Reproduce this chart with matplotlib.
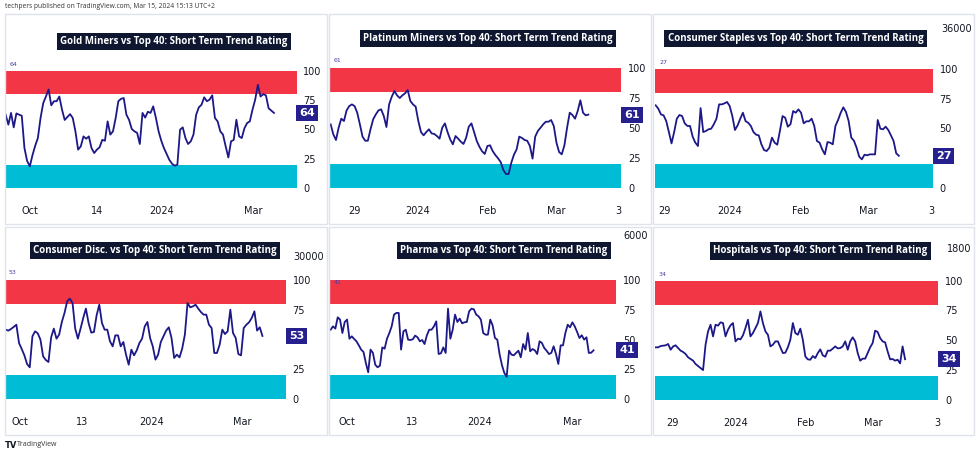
import matplotlib.pyplot as plt
import numpy as np
from matplotlib.patches import Rectangle
import matplotlib.transforms as mtransforms

W, H = 980, 454

# short term trend rating per sector
gold_miners = [62.5, 54, 64, 51.7, 63.6, 62.5, 61.6, 34, 23, 18.5, 28, 36, 42.6, 59.7, 72.4, 78, 84, 70.5, 74, 74,
               78, 66.8, 58, 60.5, 63, 59.7, 48.3, 32.7, 35.5, 44, 42, 44, 34, 29.8, 32.7, 34.7, 41, 40.3, 56.8, 45.5,
               48.3, 59.7, 74, 76, 76.7, 62.5, 58, 50.3, 48.3, 47, 37.5, 64, 60, 65, 64, 69.6, 59.7, 48.3, 40.3, 34,
               29, 24, 20.7, 19, 19.9, 49.7, 51.7, 42.6, 37.5, 39.8, 45.5, 62.5, 68.8, 71, 77.3, 74, 75.3, 79, 59.7,
               56.8, 48.3, 45.5, 35.5, 26, 39.8, 41, 58.2, 44, 42.6, 51, 55.4, 56.8, 66.8, 75.3, 88, 78, 80, 79, 68,
               66, 64]
platinum_miners = [52.9, 44.6, 39.9, 50.1, 57.6, 55.7, 64.5, 68.1, 69.5, 68.1, 62.6, 52.9, 42.7, 39.3, 39.3, 48.8,
                   57.1, 61.2, 64.5, 65.4, 59.8, 50.7, 69.5, 75.9, 80.6, 77, 74.8, 77, 78.7, 81.4, 72.3, 69.5, 67.6,
                   55.7, 46.5, 43.8, 46.5, 48.8, 45.4, 44.9, 43.2, 41, 50.1, 53.7, 46.5, 40.4, 36.3, 43.2, 41, 38.5,
                   36.6, 41.8, 51, 53.7, 46.5, 39.1, 34.3, 30.5, 28.3, 34.9, 35.5, 30.7, 27.4, 24.7, 21.6, 15, 11.6,
                   11.6, 21, 27.7, 32.1, 42.7, 41.6, 39.9, 39.3, 34.9, 24.4, 42.7, 47.4, 50.1, 52.9, 55.1, 55.1, 56.5,
                   51.5, 37.7, 29.9, 28, 35.5, 50.1, 62.6, 60.7, 57.6, 64, 72.9, 62.6, 60.4, 61]
consumer_staples = [69.3, 66.5, 61.7, 60.9, 56.1, 46.9, 37.4, 46.9, 58.1, 61.2, 60.3, 54.2, 52, 52, 43, 38, 35.2,
                    67, 46.9, 47.8, 49.2, 49.7, 53.4, 58.1, 70.1, 70.1, 70.9, 72.1, 68.7, 60.3, 48.6, 52.5, 58.1,
                    63.1, 56.1, 54.7, 52, 46.9, 44.7, 44.1, 36.6, 31.8, 31, 33.8, 42.2, 38, 36.3, 47.8, 60.3, 58.9,
                    51.4, 53.4, 64.5, 63.1, 65.9, 63.1, 54.2, 55.9, 55.9, 58.1, 52, 39.4, 38, 32.4, 28.2, 38.5, 38,
                    36.6, 52, 57, 63.1, 67.6, 63.7, 56.1, 42.2, 39.7, 33.8, 26.3, 24, 27.9, 27.4, 28.2, 28.2, 28.2,
                    57, 49.7, 49.2, 51.4, 48.6, 44.1, 39.4, 29.1, 27]
consumer_disc = [58.3, 57.5, 58.9, 60.6, 62.5, 47, 42, 36.6, 29.3, 26.5, 52.7, 56.9, 55.2, 49.9, 35.8, 32.7, 31,
                 51.8, 59.2, 50.7, 54.1, 64.8, 72.4, 82.3, 84.5, 80.8, 59.2, 50.7, 59.2, 68.2, 76.1, 63.9, 55.8, 56.3,
                 70.4, 79.4, 63.9, 58.3, 58.3, 48.5, 44.2, 53.5, 53.5, 44.2, 47.9, 37.2, 28.7, 41.4, 36.6, 40.8, 47,
                 50.7, 61.1, 64.8, 51.3, 44.2, 33, 37.2, 47.9, 52.7, 57.5, 60.3, 51.3, 34.4, 37.2, 34.9, 42.3, 54.1,
                 80.8, 77.2, 78, 79.4, 76.1, 73.2, 71, 71, 62.5, 59.7, 38.6, 38.6, 45.6, 58.3, 54.6, 56.9, 75.2, 55.5,
                 51.3, 37.7, 36.6, 59.7, 62.5, 64.5, 68.2, 73.8, 57.5, 60.3, 53]
pharma = [58.4, 61.2, 59.3, 68.8, 66.9, 55.6, 64.9, 66.9, 50.8, 52.8, 50.6, 48.6, 45.2, 41.6, 39.6, 30.3, 22.5, 41.6,
          38.8, 28.9, 26.7, 28.1, 43.5, 42.4, 50.8, 55.6, 61.2, 71.1, 72.5, 72.5, 41.6, 57, 58.4, 50, 49.7, 50.3,
          53.4, 52, 48.6, 49.7, 46.3, 53.7, 58.4, 58.4, 61.2, 65.4, 37.9, 38.5, 43.5, 38.8, 76.1, 50.8, 58.4, 71.1,
          64.9, 67.7, 63.8, 64.6, 64.9, 73.9, 76.1, 75.6, 71.1, 69.7, 66.9, 55.6, 54.2, 54.2, 66.9, 62.1, 51.4, 50,
          37.4, 28.4, 21.9, 18.8, 40.7, 37.4, 36.8, 38.8, 40.7, 35.1, 46.3, 41.6, 55.6, 40.2, 42.1, 41, 37.9, 48.6,
          47.2, 43, 40.7, 37.9, 38.8, 44.4, 37.9, 29.5, 45.2, 45.2, 55.6, 62.6, 60.4, 64.6, 61.2, 56.5, 51.4, 53.7,
          50, 52, 38.8, 39, 41]
hospitals = [44, 44, 45.1, 45.4, 45.7, 46.8, 42, 44.8, 45.7, 43.4, 41.2, 40.1, 38.4, 35.6, 34.2, 32.8, 30, 28.3,
             26.6, 24.9, 46.2, 57.4, 63, 53.2, 63, 62.2, 65, 64.4, 53.2, 58.8, 62.5, 64.4, 49, 51.3, 50.7, 54.1, 60.2,
             67.2, 53.2, 56, 60.2, 64.4, 74.2, 64.4, 57.4, 54.6, 44.8, 46.2, 49, 49, 44, 39.2, 39.5, 44, 50.4, 64.4,
             56, 54.6, 59.7, 50.4, 36.4, 33.9, 33.6, 36.7, 35, 39.2, 42.3, 37.3, 36.1, 41.2, 41.2, 42.9, 44.8, 43.1,
             43.4, 44.8, 49, 42, 49, 52.4, 49, 39.2, 32.8, 34.5, 34.5, 39.2, 44, 47.6, 58, 56.9, 51.8, 49, 48.2, 40.6,
             33.9, 34.2, 32.8, 33.6, 30.5, 44.8, 34]

titles = ['Gold Miners vs Top 40: Short Term Trend Rating',
          'Platinum Miners vs Top 40: Short Term Trend Rating',
          'Consumer Staples vs Top 40: Short Term Trend Rating',
          'Consumer Disc. vs Top 40: Short Term Trend Rating',
          'Pharma vs Top 40: Short Term Trend Rating',
          'Hospitals vs Top 40: Short Term Trend Rating']
series = [gold_miners, platinum_miners, consumer_staples, consumer_disc, pharma, hospitals]

# x tick positions (bar index) and labels
tick_pos = [[9.1, 34.0, 58.3, 92.2],
            [8.8, 32.9, 59.2, 84.8, 108.5],
            [3.5, 28.1, 55.0, 80.3, 104.2],
            [5.4, 28.6, 54.4, 88.4],
            [7.0, 34.7, 63.6, 102.8],
            [6.6, 32.2, 60.3, 87.2, 112.8]]
tick_lab = [['Oct', '14', '2024', 'Mar'],
            ['29', '2024', 'Feb', 'Mar', '3'],
            ['29', '2024', 'Feb', 'Mar', '3'],
            ['Oct', '13', '2024', 'Mar'],
            ['Oct', '13', '2024', 'Mar'],
            ['29', '2024', 'Feb', 'Mar', '3']]
y_ticks = [0, 25, 50, 75, 100]
extra_scale = ['', '', '36000', '30000', '6000', '1800']

# layout (pixels)
axes_px = [(5, 70.7, 296.5, 188), (330, 67.7, 621, 188), (655, 68.7, 932.7, 188),
           (5, 280.3, 285.7, 398.7), (330, 280.3, 616.3, 399), (655, 280.7, 938, 399.7)]
xlims = [(-0.25, 108.4), (-0.25, 109.3), (-0.25, 104.8), (-0.25, 104.7), (-0.28, 121.7), (-0.27, 113.2)]
panel_px = [(5, 14, 327, 224), (329, 14, 651, 224), (653, 14, 974, 224),
            (5, 227, 327, 435), (329, 227, 651, 435), (653, 227, 974, 435)]
title_px = [(287.5, 41.5), (612.5, 38.5), (923.5, 38.5), (276.5, 250.5), (607.5, 250.5), (927.5, 251)]
small_px = [(10, 64), (334, 60), (659, 62), (9, 273), (334, 282), (659, 274)]
extra_px = [None, None, (941, 29), (293, 257), (623, 236), (947, 249)]

RED = '#f23645'
CYAN = '#00bcd4'
LINE = '#1c1888'
BADGE = '#261f8e'
TXT = '#131722'


def fx(x):
    return x / W


def fy(y):
    return 1 - y / H


fig = plt.figure(figsize=(9.8, 4.54), dpi=100)
fig.patch.set_facecolor('white')

fig.text(fx(5), fy(6), 'techpers published on TradingView.com, Mar 15, 2024 15:13 UTC+2',
         fontsize=4.8, color='#333333', va='center', ha='left', family='Open Sans')

for k in range(6):
    x0, y0, x1, y1 = panel_px[k]
    fig.patches.append(Rectangle((fx(x0), fy(y1)), (x1 - x0) / W, (y1 - y0) / H, transform=fig.transFigure,
                                 fill=False, edgecolor='#e0e3eb', lw=1.0))

    a0, b0, a1, b1 = axes_px[k]
    ax = fig.add_axes([fx(a0), fy(b1), (a1 - a0) / W, (b1 - b0) / H])
    vals = np.array(series[k])
    x = np.arange(len(vals))
    last = vals[-1]
    ax.axhspan(80, 100, color=RED, lw=0)
    ax.axhspan(0, 20, color=CYAN, lw=0)
    ax.plot(x, vals, color=LINE, lw=1.3)
    ax.set_xlim(*xlims[k])
    ax.set_ylim(0, 100)
    for s in ax.spines.values():
        s.set_visible(False)
    ax.yaxis.tick_right()
    # the price badge hides the scale label right behind it
    yl = [str(t) if abs(t - last) >= 8 else '' for t in y_ticks]
    ax.set_yticks(y_ticks, yl)
    ax.tick_params(axis='y', length=0, pad=5, labelsize=7, labelcolor=TXT)
    ax.set_xticks(tick_pos[k], tick_lab[k])
    ax.tick_params(axis='x', length=0, pad=13, labelsize=7, labelcolor=TXT)

    tr = mtransforms.blended_transform_factory(ax.transAxes, ax.transData)
    ax.annotate(f'{last:.0f}', xy=(1.0, last), xycoords=tr, xytext=(2.2, 0), textcoords='offset points',
                ha='left', va='center', color='white', fontsize=8, fontweight='bold',
                bbox=dict(boxstyle='square,pad=0.28', fc=BADGE, ec='none'), annotation_clip=False)

    tx, ty = title_px[k]
    fig.text(fx(tx), fy(ty), titles[k], ha='right', va='center', color='white', fontsize=7,
             family='Open Sans', fontweight='bold',
             bbox=dict(boxstyle='square,pad=0.35', fc='#0e1630', ec='none'))

    sx, sy = small_px[k]
    fig.text(fx(sx), fy(sy), f'{last:.0f}', fontsize=4.5, color='#4a40a0', ha='left', va='center')

    if extra_px[k] is not None:
        ex, ey = extra_px[k]
        fig.text(fx(ex), fy(ey), extra_scale[k], fontsize=7, color=TXT, ha='left', va='center')

fig.text(fx(5), fy(445), 'TV', fontsize=6, fontweight='heavy', color='#131722', ha='left', va='center')
fig.text(fx(17), fy(445), 'TradingView', fontsize=5, color='#333333', ha='left', va='center', family='Open Sans')

fig.savefig('out.png', dpi=100, facecolor='white')
